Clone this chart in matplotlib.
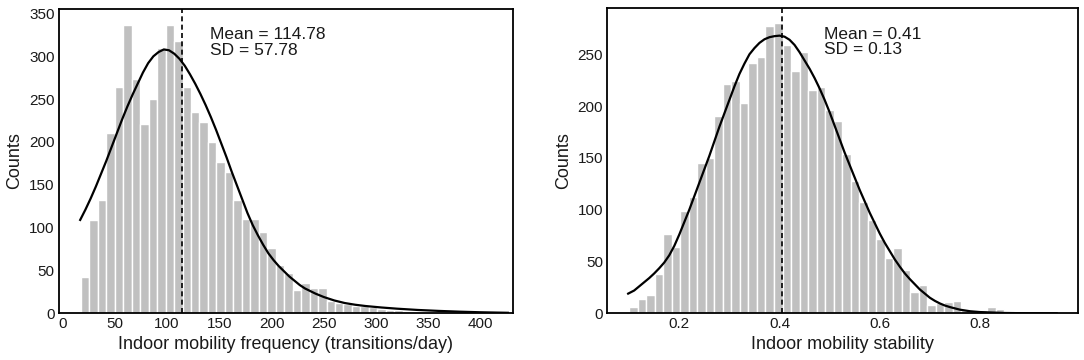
import numpy as np
import matplotlib.pyplot as plt

plt.rcParams['font.family'] = ['Liberation Sans', 'DejaVu Sans']

# left panel: indoor mobility frequency histogram (50 bins)
freq_start = 17.7
freq_width = 8.1
freq_counts = [42, 109, 132, 210, 264, 337, 273, 221, 250, 310,
               337, 318, 264, 235, 223, 200, 177, 165, 132, 110,
               110, 95, 76, 56, 47, 27, 35, 30, 29, 14,
               12, 11, 9, 8, 7, 5, 4, 4, 3, 2,
               2, 2, 1, 1, 1, 1, 0, 1, 0, 1]
# fitted curve
freq_curve_x = [17, 22, 27, 32, 37, 42, 47, 52, 57, 62, 67, 72, 77, 82, 87,
                92, 97, 102, 107, 112, 117, 122, 127, 132, 137, 142, 147, 152,
                157, 162, 167, 172, 177, 182, 187, 192, 197, 202, 207, 212,
                217, 222, 227, 232, 237, 242, 250, 260, 270, 280, 290, 305,
                320, 340, 360, 380, 400, 426]
freq_curve_y = [109, 121, 134, 148, 163, 178, 194, 210, 226, 241, 255, 268,
                281, 292, 300, 305, 308, 307, 303, 297, 289, 279, 268, 256,
                243, 229, 214, 198, 182, 165, 149, 133, 117, 103, 91, 80, 70,
                62, 55, 49, 43, 38, 33, 29, 26, 23, 19, 15, 12, 10, 8.5, 6.8,
                5.4, 3.9, 2.8, 1.9, 1.2, 0.6]
freq_mean, freq_sd = 114.78, 57.78

# right panel: indoor mobility stability histogram (50 bins)
stab_start = 0.1
stab_width = 0.017
stab_counts = [6, 14, 18, 38, 77, 64, 99, 112, 145, 150,
               190, 221, 224, 203, 242, 247, 277, 280, 259, 234,
               252, 216, 218, 196, 186, 154, 128, 107, 90, 72,
               53, 63, 42, 21, 27, 8, 10, 11, 12, 3,
               2, 3, 6, 4, 2, 1, 1, 0, 1, 1]
stab_curve_x = [0.098, 0.11, 0.12, 0.13, 0.14, 0.15, 0.16, 0.17, 0.18, 0.19,
                0.20, 0.21, 0.22, 0.23, 0.24, 0.25, 0.26, 0.27, 0.28, 0.29,
                0.30, 0.31, 0.32, 0.33, 0.34, 0.35, 0.36, 0.37, 0.38, 0.39,
                0.40, 0.41, 0.42, 0.43, 0.44, 0.45, 0.46, 0.47, 0.48, 0.49,
                0.50, 0.51, 0.52, 0.53, 0.54, 0.55, 0.56, 0.57, 0.58, 0.59,
                0.60, 0.61, 0.62, 0.63, 0.64, 0.65, 0.66, 0.67, 0.68, 0.69,
                0.70, 0.71, 0.72, 0.73, 0.74, 0.76, 0.78, 0.80, 0.85, 0.90,
                0.953]
stab_curve_y = [19, 22, 26, 30, 34, 38.5, 43.5, 49, 56, 65,
                76, 88, 100, 113, 126, 139, 152, 166, 180, 193,
                206, 219, 231, 241, 250, 256, 261, 264.5, 266.5, 267.5,
                268, 267, 264, 259, 252, 244, 236, 227, 217, 206,
                194, 181, 168, 155, 143, 131, 119, 108, 97, 87,
                77, 68, 60, 52, 45, 38.5, 33, 28, 23, 19,
                15, 12, 9.5, 7.5, 6, 3.5, 2, 1.2, 0.3, 0.05,
                0]
stab_mean, stab_sd = 0.41, 0.13
stab_line = 0.405

fig = plt.figure(figsize=(10.84, 3.6), dpi=100)
ax1 = fig.add_axes([0.0542, 0.1297, 0.4191, 0.846])
ax2 = fig.add_axes([0.5602, 0.1297, 0.4345, 0.8473])

bar_color = '#c0c0c0'
text_color = '#1a1a1a'


def draw_panel(ax, start, width, counts, cx, cy, vline, label, ann):
    edges = start + width * np.arange(len(counts))
    ax.bar(edges, counts, width=width, align='edge', color=bar_color,
           edgecolor='white', linewidth=1.0)
    ax.plot(cx, cy, color='black', lw=1.6)
    ax.axvline(vline, color='black', lw=1.2, ls=(0, (3, 2)))
    ax.set_xlabel(label, fontsize=13, color=text_color, labelpad=3)
    ax.set_ylabel('Counts', fontsize=13, color=text_color, labelpad=4)
    ax.tick_params(length=0, labelsize=11, colors=text_color, pad=3)
    for s in ax.spines.values():
        s.set_linewidth(1.3)
        s.set_color('black')
    ax.text(ann[0], ann[1], ann[2], fontsize=12.5, color=text_color,
            va='top', ha='left', linespacing=1.05, transform=ax.transAxes)


draw_panel(ax1, freq_start, freq_width, freq_counts, freq_curve_x, freq_curve_y,
           freq_mean, 'Indoor mobility frequency (transitions/day)',
           (0.333, 0.94, f'Mean = {freq_mean:.2f}\nSD = {freq_sd:.2f}'))
ax1.set_xlim(-3.5, 431)
ax1.set_ylim(0, 355.5)
ax1.set_xticks([0, 50, 100, 150, 200, 250, 300, 350, 400])
ax1.set_yticks([0, 50, 100, 150, 200, 250, 300, 350])

draw_panel(ax2, stab_start, stab_width, stab_counts, stab_curve_x, stab_curve_y,
           stab_line, 'Indoor mobility stability',
           (0.46, 0.94, f'Mean = {stab_mean:.2f}\nSD = {stab_sd:.2f}'))
ax2.set_xlim(0.0563, 0.996)
ax2.set_ylim(0, 294.4)
ax2.set_xticks([0.2, 0.4, 0.6, 0.8])
ax2.set_xticklabels(['0.2', '0.4', '0.6', '0.8'])
ax2.set_yticks([0, 50, 100, 150, 200, 250])

fig.savefig('out.png', dpi=100)
